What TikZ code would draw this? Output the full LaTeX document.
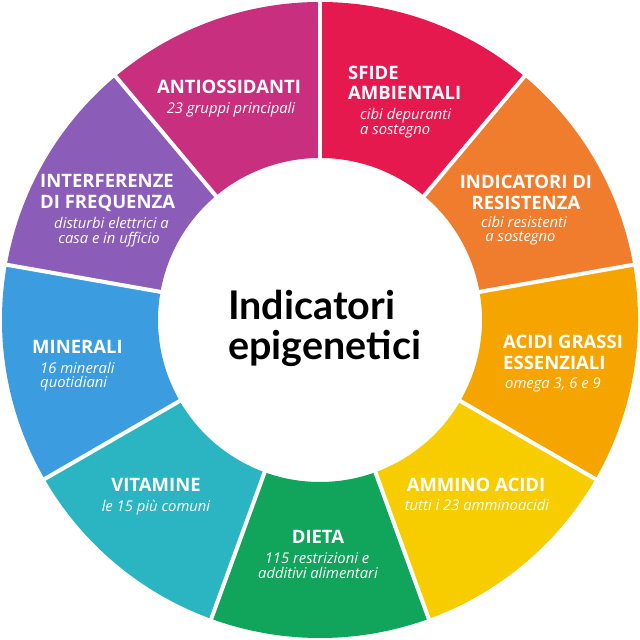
\documentclass[tikz,border=0pt]{standalone}
\usepackage{fontspec}
\setmainfont{Open Sans}
\newfontfamily\centerfont{Lato}
\definecolor{cantiox}{HTML}{C8307F}
\definecolor{csfide}{HTML}{E6194F}
\definecolor{cindic}{HTML}{EF7D2D}
\definecolor{cacidi}{HTML}{F6A500}
\definecolor{cammino}{HTML}{F8CD00}
\definecolor{cdieta}{HTML}{11A55C}
\definecolor{cvitam}{HTML}{2BB5C3}
\definecolor{cminer}{HTML}{3B9CDF}
\definecolor{cinterf}{HTML}{8B5CB8}
\begin{document}
\begin{tikzpicture}[x=1pt,y=1pt,
  ttl/.style={text=white,inner sep=0pt,font=\bfseries\fontsize{18.5}{18.5}\selectfont},
  sub/.style={text=white,inner sep=0pt,font=\itshape\fontsize{14.8}{14.8}\selectfont},
  ctr/.style={text=black,inner sep=0pt,font=\centerfont\bfseries\fontsize{39.5}{39.5}\selectfont}]
\useasboundingbox (0,0) rectangle (640,640);
\fill[white] (0,0) rectangle (640,640);
\begin{scope}[shift={(320,320)}]
\foreach \a/\c in {90/cantiox,50/csfide,10/cindic,-30/cacidi,-70/cammino,-110/cdieta,-150/cvitam,170/cminer,130/cinterf}{
  \pgfmathsetmacro\b{\a+40}
  \fill[\c] (\a:318) arc[start angle=\a, end angle=\b, radius=318] -- (\b:162) arc[start angle=\b, end angle=\a, radius=162] -- cycle;
}
\foreach \a in {90,50,10,-30,-70,-110,-150,170,130}{
  \draw[white,line width=4pt] (\a:158) -- (\a:322);
}
\end{scope}
% centre
\node[ctr,anchor=base west] (c1) at (228,320) {Indicatori};
\node[ctr,anchor=base west] (c2) at (228,280) {epigenetici};
% antiossidanti
\node[ttl,anchor=base] (a1) at (229,546) {ANTIOSSIDANTI};
\node[sub,anchor=base] (a2) at (231,526) {23 gruppi principali};
% sfide
\node[ttl,anchor=base west] (s1) at (348,560) {SFIDE};
\node[ttl,anchor=base west] (s2) at (348,540) {AMBIENTALI};
\node[sub,anchor=base west] (s3) at (360,520) {cibi depuranti};
\node[sub,anchor=base west] (s4) at (360,505) {a sostegno};
% indicatori
\node[ttl,anchor=base] (i1) at (526,451.7) {INDICATORI DI};
\node[ttl,anchor=base] (i2) at (526,430.7) {RESISTENZA};
\node[sub,anchor=base] (i3) at (524,412.7) {cibi resistenti};
\node[sub,anchor=base] (i4) at (520.5,398.3) {a sostegno};
% acidi
\node[ttl,anchor=base west] (g1) at (503,291.7) {ACIDI GRASSI};
\node[ttl,anchor=base west] (g2) at (503,270) {ESSENZIALI};
\node[sub,anchor=base west] (g3) at (505,251.7) {omega 3, 6 e 9};
% ammino
\node[ttl,anchor=base] (m1) at (476,148.3) {AMMINO ACIDI};
\node[sub,anchor=base] (m2) at (477,129) {tutti i 23 amminoacidi};
% dieta
\node[ttl,anchor=base] (d1) at (318,96) {DIETA};
\node[sub,anchor=base] (d2) at (317,76.7) {115 restrizioni e};
\node[sub,anchor=base] (d3) at (318,61) {additivi alimentari};
% vitamine
\node[ttl,anchor=base] (v1) at (156,148.3) {VITAMINE};
\node[sub,anchor=base] (v2) at (156,128.3) {le 15 più comuni};
% minerali
\node[ttl,anchor=base west] (n1) at (32,286.7) {MINERALI};
\node[sub,anchor=base west] (n2) at (40,266.7) {16 minerali};
\node[sub,anchor=base west] (n3) at (40,252.7) {quotidiani};
% interferenze
\node[ttl,anchor=base west] (f1) at (40,452.7) {INTERFERENZE};
\node[ttl,anchor=base west] (f2) at (40,431.7) {DI FREQUENZA};
\node[sub,anchor=base] (f3) at (111.5,411.7) {disturbi elettrici a};
\node[sub,anchor=base] (f4) at (109,396.7) {casa e in ufficio};
\end{tikzpicture}
\end{document}
